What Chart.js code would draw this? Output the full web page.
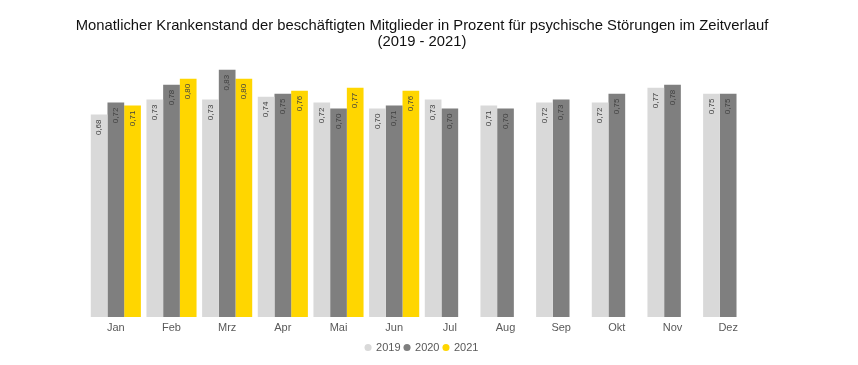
<!DOCTYPE html>
<html lang="de">
<head>
  <meta charset="UTF-8" />
  <title>Monatlicher Krankenstand</title>
  <script src="https://cdn.jsdelivr.net/npm/chart.js"></script>
  <style>
    html, body { margin: 0; padding: 0; background: #fff; }
    #wrap { width: 858px; height: 365px; }
  </style>
</head>
<body>
  <div id="wrap"><canvas id="chart" width="858" height="365"></canvas></div>
  <script>
    // Monate und Werte (in Prozent)
    const months = ["Jan", "Feb", "Mrz", "Apr", "Mai", "Jun", "Jul", "Aug", "Sep", "Okt", "Nov", "Dez"];
    const values2019 = [0.68, 0.73, 0.73, 0.74, 0.72, 0.70, 0.73, 0.71, 0.72, 0.72, 0.77, 0.75];
    const values2020 = [0.72, 0.78, 0.83, 0.75, 0.70, 0.71, 0.70, 0.70, 0.73, 0.75, 0.78, 0.75];
    const values2021 = [0.71, 0.80, 0.80, 0.76, 0.77, 0.76, null, null, null, null, null, null];

    const fontFamily = "Arial, 'Liberation Sans', sans-serif";

    // Werte senkrecht in die Balken schreiben
    const barLabels = {
      id: "barLabels",
      afterDatasetsDraw(chart) {
        const ctx = chart.ctx;
        ctx.save();
        ctx.font = "8px " + fontFamily;
        ctx.fillStyle = "#404040";
        ctx.textAlign = "right";
        ctx.textBaseline = "middle";
        chart.data.datasets.forEach((ds, i) => {
          const meta = chart.getDatasetMeta(i);
          meta.data.forEach((bar, j) => {
            const v = ds.data[j];
            if (v == null) return;
            ctx.save();
            ctx.translate(bar.x, bar.y + 5);
            ctx.rotate(-Math.PI / 2);
            ctx.fillText(v.toFixed(2).replace(".", ","), 0, 0);
            ctx.restore();
          });
        });
        ctx.restore();
      }
    };

    // unsichtbare Achsen als Rand links/rechts, damit der Titel die volle Breite hat
    const hiddenAxis = (pos) => ({
      position: pos,
      display: true,
      min: 0,
      max: 0.89,
      grid: { display: false, drawTicks: false },
      border: { display: false },
      ticks: { display: false },
      afterFit(axis) { axis.width = 88; }
    });

    new Chart(document.getElementById("chart").getContext("2d"), {
      type: "bar",
      data: {
        labels: months,
        datasets: [
          { label: "2019", data: values2019, backgroundColor: "#d9d9d9" },
          { label: "2020", data: values2020, backgroundColor: "#7f7f7f" },
          { label: "2021", data: values2021, backgroundColor: "#ffd600" }
        ]
      },
      options: {
        responsive: false,
        animation: false,
        layout: { padding: { left: 0, right: 14, top: 6, bottom: 2 } },
        datasets: { bar: { categoryPercentage: 0.9, barPercentage: 1.0 } },
        plugins: {
          title: {
            display: true,
            text: [
              "Monatlicher Krankenstand der beschäftigten Mitglieder in Prozent für psychische Störungen im Zeitverlauf",
              "(2019 - 2021)"
            ],
            color: "#111",
            font: { family: fontFamily, size: 14.8, weight: "normal", lineHeight: 1.08 },
            padding: { top: 12, bottom: 2 }
          },
          legend: {
            position: "bottom",
            labels: {
              usePointStyle: true,
              pointStyle: "circle",
              boxWidth: 5,
              boxHeight: 5,
              padding: 4,
              color: "#595959",
              font: { family: fontFamily, size: 11 }
            }
          },
          tooltip: { enabled: false }
        },
        scales: {
          x: {
            grid: { display: false, drawTicks: false },
            border: { display: false },
            ticks: { padding: 5, color: "#595959", font: { family: fontFamily, size: 11, lineHeight: 1.0 } }
          },
          y: hiddenAxis("left"),
          yRight: hiddenAxis("right")
        }
      },
      plugins: [barLabels]
    });
  </script>
</body>
</html>
